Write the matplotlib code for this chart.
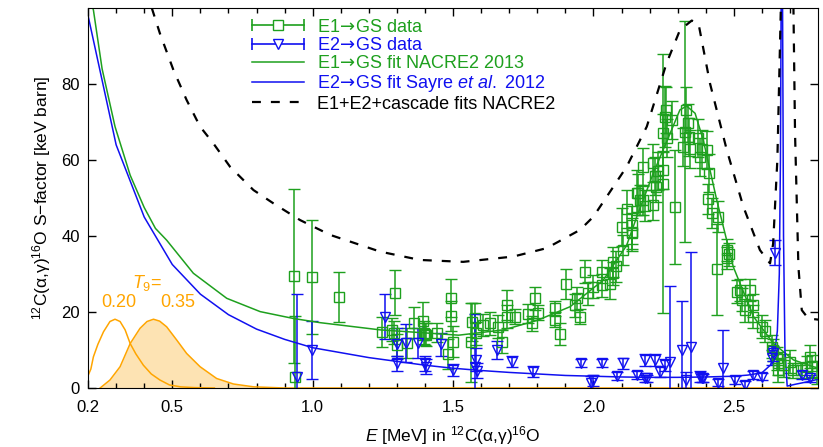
import numpy as np
import matplotlib
matplotlib.use('Agg')
import matplotlib.pyplot as plt
from matplotlib.lines import Line2D
from matplotlib.legend_handler import HandlerBase

plt.rcParams['font.family'] = ['Liberation Sans', 'DejaVu Sans']
plt.rcParams['mathtext.fontset'] = 'custom'
plt.rcParams['mathtext.rm'] = 'Liberation Sans'
plt.rcParams['mathtext.it'] = 'Liberation Sans:italic'
plt.rcParams['mathtext.sf'] = 'DejaVu Sans'

green = '#1ea01e'
blue = '#1010f0'
orange = '#ffa500'
ofill = '#fde3b3'

# E1 -> GS data: energy [MeV], S-factor [keV b], error
e1_E = [0.934, 0.937, 0.997, 1.094, 1.246, 1.282, 1.290, 1.293, 1.299, 1.335,
        1.361, 1.392, 1.395, 1.400, 1.405, 1.442, 1.483, 1.492, 1.492, 1.501,
        1.563, 1.566, 1.578, 1.580, 1.608, 1.632, 1.661, 1.673, 1.691, 1.691,
        1.720, 1.768, 1.780, 1.792, 1.804, 1.863, 1.863, 1.881, 1.902, 1.934,
        1.940, 1.952, 1.970, 1.982, 2.000, 2.030, 2.030, 2.059, 2.070, 2.071,
        2.080, 2.100, 2.106, 2.120, 2.136, 2.139, 2.139, 2.156, 2.160, 2.166,
        2.178, 2.178, 2.184, 2.211, 2.213, 2.219, 2.222, 2.230, 2.249, 2.249,
        2.249, 2.255, 2.260, 2.262, 2.279, 2.290, 2.320, 2.326, 2.330, 2.338,
        2.340, 2.344, 2.374, 2.380, 2.385, 2.403, 2.409, 2.413, 2.421, 2.439,
        2.445, 2.477, 2.477, 2.482, 2.510, 2.522, 2.530, 2.540, 2.557, 2.570,
        2.570, 2.600, 2.610, 2.635, 2.640, 2.652, 2.656, 2.656, 2.680, 2.700,
        2.712, 2.740, 2.760, 2.771, 2.777, 2.797]
e1_S = [29.5, 3.0, 29.1, 24.0, 14.8, 15.3, 14.6, 25.1, 11.3, 11.8,
        17.2, 17.7, 14.6, 14.2, 14.0, 14.6, 8.9, 23.8, 19.0, 12.2,
        12.0, 17.5, 18.3, 14.4, 16.6, 17.0, 16.1, 12.2, 21.8, 18.8,
        18.8, 19.6, 17.0, 23.6, 19.8, 21.0, 18.0, 14.2, 27.4, 21.8,
        23.6, 18.8, 30.6, 24.9, 26.7, 30.6, 27.0, 27.5, 30.2, 33.2,
        32.0, 42.3, 36.3, 47.0, 40.7, 42.9, 41.1, 51.4, 51.2, 49.5,
        58.2, 49.5, 48.0, 48.2, 59.1, 55.9, 53.0, 57.0, 67.0, 57.4,
        53.8, 71.4, 73.2, 65.7, 70.5, 47.7, 63.5, 67.5, 73.2, 69.7,
        66.0, 63.0, 65.7, 60.9, 63.0, 62.6, 49.7, 56.7, 46.1, 31.2,
        45.1, 36.3, 34.2, 35.2, 25.3, 25.8, 23.2, 20.5, 25.8, 21.8,
        18.8, 16.1, 15.0, 10.9, 10.0, 7.8, 6.5, 4.7, 6.0, 6.9,
        4.7, 4.7, 5.5, 8.2, 5.8, 4.0]
e1_err = [23, 16, 15, 6.6, 4, 3, 3, 6, 3, 4,
          4, 5, 3, 3, 3, 2.5, 4, 5, 4, 4,
          10.5, 5, 4, 3, 3, 3, 3, 3, 4, 3,
          2, 2.5, 2, 3, 2, 2, 2, 3, 4, 3,
          3, 2, 3, 3, 3, 3, 3, 4, 3, 4,
          4, 5, 4, 5, 4, 5, 5, 6, 5, 4,
          5, 4, 4, 4, 5, 5, 4, 5, 5, 5,
          34, 8, 6, 5, 5, 15, 5, 29, 6, 5,
          5, 5, 5, 5, 5, 5, 4, 5, 4, 12,
          4, 3, 3, 3, 3, 3, 3, 3, 3, 3,
          3, 3, 3, 3, 3, 3, 3, 3, 3, 3,
          2, 2, 3, 3, 3, 3]

# E2 -> GS data
e2_E = [0.945, 0.997, 1.258, 1.299, 1.299, 1.332, 1.376, 1.400, 1.405, 1.457,
        1.501, 1.578, 1.580, 1.585, 1.655, 1.709, 1.786, 1.954, 1.990, 2.000,
        2.032, 2.083, 2.106, 2.154, 2.184, 2.184, 2.190, 2.219, 2.237, 2.255,
        2.273, 2.314, 2.330, 2.348, 2.380, 2.385, 2.390, 2.445, 2.462, 2.504,
        2.540, 2.570, 2.600, 2.635, 2.640, 2.647, 2.742, 2.771]
e2_S = [3.0, 10.0, 18.8, 11.7, 6.5, 11.8, 11.8, 6.5, 5.6, 11.5,
        4.7, 5.6, 7.4, 4.5, 10.0, 6.9, 4.3, 6.5, 1.2, 2.0,
        6.5, 3.2, 6.5, 3.4, 7.4, 2.5, 2.5, 7.4, 4.3, 6.0,
        6.9, 10.0, 2.1, 10.9, 3.0, 2.6, 2.6, 1.4, 5.2, 2.1,
        0.8, 3.4, 3.0, 8.0, 9.1, 35.6, 3.4, 2.5]
e2_err = [21.7, 7.6, 6, 4, 2, 5, 4, 2, 2, 3,
          1.5, 14, 3, 2, 2.3, 1.5, 1.5, 1, 2, 1.5,
          1, 1, 1.5, 1, 1.5, 1, 1, 1.5, 1.5, 1.5,
          20, 13, 2, 25, 1.5, 1, 1, 1, 10, 1,
          1, 1, 1, 2, 2, 3.3, 1, 1]

# E1 fit NACRE2 2013
fit1_E = [0.200, 0.219, 0.250, 0.296, 0.350, 0.400, 0.440, 0.480, 0.575, 0.694,
          0.813, 0.931, 1.026, 1.240, 1.520, 1.680, 1.800, 1.917, 2.035, 2.118,
          2.154, 2.213, 2.273, 2.308, 2.332, 2.362, 2.391, 2.439, 2.498, 2.570,
          2.640, 2.712, 2.783, 2.800]
fit1_S = [104.0, 99.5, 84.0, 68.8, 56.0, 47.5, 42.0, 38.9, 30.2, 23.6,
          20.1, 18.3, 17.2, 15.3, 13.9, 15.3, 17.8, 21.4, 28.4, 37.5,
          45.0, 56.5, 67.0, 73.2, 74.2, 72.3, 65.3, 49.5, 31.9, 18.8,
          11.8, 7.4, 5.6, 5.3]

# E2 fit Sayre et al. 2012
fit2_E = [0.20, 0.30, 0.40, 0.50, 0.60, 0.70, 0.80, 0.90, 1.00, 1.10,
          1.20, 1.30, 1.40, 1.50, 1.60, 1.70, 1.80, 1.90, 2.00, 2.10,
          2.20, 2.30, 2.40, 2.50, 2.55, 2.60, 2.63, 2.645, 2.655, 2.662,
          2.666, 2.669, 2.673, 2.677, 2.682, 2.690, 2.720, 2.760, 2.800]
fit2_S = [98.0, 64.0, 45.0, 32.5, 24.7, 19.3, 15.5, 12.8, 10.6, 9.3,
          8.0, 7.0, 6.0, 5.2, 4.6, 4.1, 3.7, 3.3, 3.1, 2.9,
          2.8, 2.8, 2.9, 3.1, 3.4, 4.0, 6.0, 9.0, 15.0, 30.0,
          60.0, 110.0, 110.0, 40.0, 10.0, 0.5, 1.0, 1.6, 2.3]

# E1+E2+cascade fits NACRE2
tot_E = [0.427, 0.456, 0.504, 0.551, 0.599, 0.646, 0.706, 0.789, 0.860, 0.955,
         1.062, 1.240, 1.382, 1.536, 1.715, 1.833, 1.952, 2.000, 2.118, 2.190,
         2.260, 2.308, 2.350, 2.374, 2.415, 2.475, 2.534, 2.593, 2.629, 2.640,
         2.655, 2.668, 2.712, 2.718, 2.730, 2.742, 2.765, 2.800]
tot_S = [100.0, 93.3, 83.7, 75.8, 68.8, 64.4, 58.2, 52.1, 48.6, 44.2,
         40.3, 35.9, 33.7, 33.2, 34.6, 36.8, 41.6, 45.1, 58.2, 68.8,
         85.4, 94.2, 96.7, 96.0, 80.2, 62.6, 47.7, 36.3, 32.8, 38.0,
         60.0, 102.0, 102.0, 67.0, 31.9, 20.5, 18.3, 18.0]

# Gamow windows (arbitrary units)
g20_E = [0.195, 0.210, 0.219, 0.235, 0.255, 0.278, 0.296, 0.314, 0.332, 0.350,
         0.370, 0.397, 0.425, 0.456, 0.490, 0.530, 0.580, 0.650]
g20_S = [2.4, 5.0, 8.2, 11.5, 14.8, 17.5, 18.1, 17.5, 15.3, 11.7,
         9.0, 6.0, 3.7, 2.1, 0.8, 0.3, 0.1, 0.0]
g35_E = [0.243, 0.278, 0.314, 0.350, 0.385, 0.410, 0.433, 0.455, 0.480, 0.516,
         0.551, 0.599, 0.658, 0.718, 0.790, 0.900, 2.800]
g35_S = [0.0, 2.1, 5.6, 11.7, 15.7, 17.5, 18.1, 17.6, 16.1, 12.6,
         9.1, 5.6, 2.5, 1.05, 0.3, 0.0, 0.0]


class HErrHandler(HandlerBase):
    # gnuplot-like key: horizontal bar with caps and the point symbol
    def create_artists(self, legend, orig_handle, xdescent, ydescent,
                       width, height, fontsize, trans):
        c = orig_handle.get_color()
        m = orig_handle.get_marker()
        y = (height - ydescent) / 2.0
        x0, x1 = -xdescent, width - xdescent
        ln = Line2D([x0, x1], [y, y], color=c, lw=1.2, transform=trans)
        caps = Line2D([x0, x1], [y, y], ls='none', marker='|', ms=8, mew=1.2,
                      color=c, transform=trans)
        mk = Line2D([(x0 + x1) / 2], [y], ls='none', marker=m, ms=7, mfc='white',
                    mec=c, mew=1.0, transform=trans)
        return [ln, caps, mk]


fig = plt.figure(figsize=(8.23, 4.47), dpi=100)
ax = fig.add_axes([0.107, 0.132, 0.887, 0.850])

ax.fill_between(g35_E, g35_S, 0, color=ofill, lw=0)
ax.plot(g35_E, g35_S, color=orange, lw=1.1)
ax.plot(g20_E, g20_S, color=orange, lw=1.1)

ax.errorbar(e1_E, e1_S, yerr=e1_err, fmt='s', ms=7, mfc='none', mec=green,
            mew=1.0, ecolor=green, elinewidth=1.1, capsize=4, capthick=1.1)
ax.errorbar(e2_E, e2_S, yerr=e2_err, fmt='v', ms=7, mfc='none', mec=blue,
            mew=1.0, ecolor=blue, elinewidth=1.1, capsize=4, capthick=1.1)
ax.plot(fit1_E, fit1_S, color=green, lw=1.1)
ax.plot(fit2_E, fit2_S, color=blue, lw=1.1)
ax.plot(tot_E, tot_S, color='black', lw=1.6, dashes=(4, 4.5))

ax.text(0.41, 27.6, r'$T_9$=', color=orange, fontsize=13, ha='center', va='center')
ax.text(0.310, 22.6, '0.20', color=orange, fontsize=13, ha='center', va='center')
ax.text(0.519, 22.6, '0.35', color=orange, fontsize=13, ha='center', va='center')

ax.set_xlim(0.2, 2.8)
ax.set_ylim(0, 100)
ax.set_xticks([0.2, 0.5, 1.0, 1.5, 2.0, 2.5])
ax.set_xticklabels(['0.2', '0.5', '1.0', '1.5', '2.0', '2.5'])
ax.set_xticks(np.arange(0.3, 2.8, 0.1), minor=True)
ax.set_yticks([0, 20, 40, 60, 80])
ax.tick_params(which='both', direction='in', top=True, right=True, labelsize=12, width=1)
ax.tick_params(which='major', length=6)
ax.tick_params(which='minor', length=3.5)
ax.tick_params(axis='x', which='major', pad=9)
ax.tick_params(axis='y', which='major', pad=6)

ax.set_xlabel(r'$E$ [MeV] in $^{12}$C(α,γ)$^{16}$O', fontsize=12.5, labelpad=6.5)
ax.set_ylabel(r'$^{12}$C(α,γ)$^{16}$O S−factor [keV barn]', fontsize=12.5, labelpad=6)

arr = r'$\!\mathsf{\rightarrow}\!$'
h1 = Line2D([], [], color=green, marker='s')
h2 = Line2D([], [], color=blue, marker='v')
h3 = Line2D([], [], color=green, lw=1.1)
h4 = Line2D([], [], color=blue, lw=1.1)
h5 = Line2D([], [], color='black', lw=1.6, dashes=(4, 4.5))
labels = ['E1' + arr + 'GS data', 'E2' + arr + 'GS data',
          'E1' + arr + 'GS fit NACRE2 2013',
          'E2' + arr + r'GS fit Sayre $\mathit{et\ al.}$ 2012',
          'E1+E2+cascade fits NACRE2']
leg = ax.legend([h1, h2, h3, h4, h5], labels, loc='upper left',
                bbox_to_anchor=(0.2247, 0.972), frameon=False, fontsize=13,
                handlelength=2.9, handletextpad=0.7, labelspacing=0.07,
                borderpad=0, borderaxespad=0,
                handler_map={h1: HErrHandler(), h2: HErrHandler()})
for t, c in zip(leg.get_texts(), [green, blue, green, blue, 'black']):
    t.set_color(c)

fig.savefig('out.png', dpi=100)
